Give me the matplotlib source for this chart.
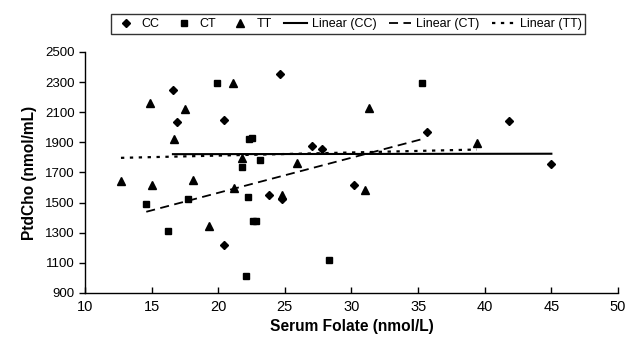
import matplotlib
matplotlib.use("Agg")
import matplotlib.pyplot as plt
import numpy as np

plt.rcParams['font.family'] = ['Liberation Sans', 'DejaVu Sans']

# genotype groups: serum folate (nmol/L) vs PtdCho (nmol/mL)
cc_x = [16.6, 16.9, 20.4, 20.4, 23.8, 24.6, 24.8, 27.0, 27.8, 30.2, 35.7, 41.8, 45.0]
cc_y = [2247, 2038, 2049, 1220, 1551, 2356, 1527, 1876, 1854, 1617, 1966, 2043, 1757]

ct_x = [14.6, 16.2, 17.7, 19.9, 21.8, 22.1, 22.2, 22.3, 22.5, 22.6, 22.8, 23.1, 28.3, 35.3]
ct_y = [1494, 1314, 1523, 2295, 1738, 1014, 1538, 1920, 1930, 1380, 1380, 1786, 1121, 2295]

tt_x = [12.7, 14.9, 15.0, 16.7, 17.5, 18.1, 19.3, 21.1, 21.2, 21.8, 24.8, 25.9, 31.0, 31.3, 39.4]
tt_y = [1643, 2159, 1615, 1924, 2122, 1650, 1343, 2295, 1595, 1797, 1551, 1764, 1584, 2130, 1896]

# linear trendlines: (slope, intercept)
fit_cc = (0.1, 1820)
fit_ct = (23.3, 1099)
fit_tt = (2.06, 1771)

xticks = [10, 15, 20, 25, 30, 35, 40, 45, 50]
yticks = [900, 1100, 1300, 1500, 1700, 1900, 2100, 2300, 2500]

fig = plt.figure(figsize=(6.29, 3.39), dpi=100)
ax = fig.add_axes([0.1351, 0.1357, 0.8474, 0.711])

ax.plot(cc_x, cc_y, 'D', color='black', ms=4.3, label='CC', clip_on=False)
ax.plot(ct_x, ct_y, 's', color='black', ms=4.6, label='CT', clip_on=False)
ax.plot(tt_x, tt_y, '^', color='black', ms=5.3, label='TT', clip_on=False)

def trend(xs, fit):
    xx = np.array([min(xs), max(xs)])
    return xx, fit[0] * xx + fit[1]

x, y = trend(cc_x, fit_cc)
ax.plot(x, y, '-', color='black', lw=1.5, label='Linear (CC)')
x, y = trend(ct_x, fit_ct)
ax.plot(x, y, color='black', lw=1.3, ls=(0, (5, 3)), label='Linear (CT)')
x, y = trend(tt_x, fit_tt)
ax.plot(x, y, color='black', lw=1.6, ls=(0, (1.5, 2.5)), label='Linear (TT)')

ax.set_xlim(10, 50)
ax.set_ylim(900, 2500)
ax.set_xticks(xticks)
ax.set_yticks(yticks)
ax.tick_params(axis='x', direction='in', length=4, width=1, labelsize=10.5, pad=5)
ax.tick_params(axis='y', direction='out', length=4.5, width=1, labelsize=9.5, pad=3)
for s in ['top', 'right']:
    ax.spines[s].set_visible(False)
for s in ['left', 'bottom']:
    ax.spines[s].set_linewidth(1)

ax.set_xlabel('Serum Folate (nmol/L)', fontsize=11.2, fontweight='bold', labelpad=4)
ax.set_ylabel('PtdCho (nmol/mL)', fontsize=11.2, fontweight='bold', labelpad=6)

leg = fig.legend(loc='center', bbox_to_anchor=(0.553, 0.929), ncol=6, fontsize=9,
                 frameon=True, fancybox=False, edgecolor='black', handlelength=1.8,
                 handletextpad=0.4, columnspacing=1.0, borderpad=0.3)
leg.get_frame().set_linewidth(1)

fig.savefig('out.png', dpi=100)
